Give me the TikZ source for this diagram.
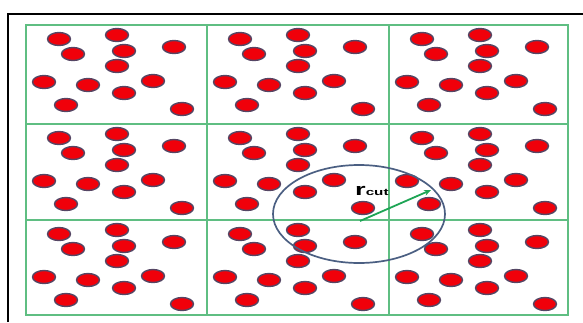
\documentclass[tikz,border=0pt]{standalone}
\usepackage{fontspec}
\setmainfont{Liberation Sans}
\usepackage{graphicx}
\usetikzlibrary{shapes.geometric, arrows.meta}
\definecolor{gridgreen}{RGB}{95,190,130}
\definecolor{arrowgreen}{RGB}{30,165,85}
\definecolor{atomred}{RGB}{240,0,10}
\definecolor{atomrim}{RGB}{85,70,100}
\definecolor{cutblue}{RGB}{75,95,130}

\begin{document}
\begin{tikzpicture}[x=1pt, y=-1pt, >={Stealth[length=7pt,width=6pt]},
  atom/.style={fill=atomred, draw=atomrim, line width=1.4pt},
  cell/.style={draw=gridgreen, line width=1.4pt}]
\useasboundingbox (0,0) rectangle (583,322);
% outer frame
\draw[line width=2.5pt] (8,322) -- (8,14) -- (583,14);
% 3x3 cells
\draw[cell] (26,25) rectangle (568,315);
\draw[cell] (207,25) -- (207,315);
\draw[cell] (389,25) -- (389,315);
\draw[cell] (26,124) -- (568,124);
\draw[cell] (26,220) -- (568,220);
% particles, same pattern in each cell
\foreach \cx in {26,207,389} {
  \foreach \cy in {25,124,220} {
    \foreach \px/\py in {33/14, 91/10, 47/29, 98/26, 148/22, 91/41, 18/57, 62/60, 127/56, 98/68, 40/80, 156/84}
      \draw[atom] (\cx+\px,\cy+\py) ellipse (11.5pt and 6.5pt);
  }
}
% cutoff sphere
\node[ellipse, draw=cutblue, line width=1.7pt, minimum width=172pt, minimum height=98pt, inner sep=0pt] (cutoff) at (359,214) {};
\coordinate (origin) at (360,221);
\coordinate (rtip) at (431,190);
\draw[->, arrowgreen, line width=1.8pt] (origin) -- (rtip);
\node[font=\bfseries, anchor=base west, inner sep=0pt] (rcut) at (355,195) {\scalebox{1.6}[1]{\fontsize{17}{17}\selectfont r\fontsize{9.5}{9.5}\selectfont cut}};
\end{tikzpicture}
\end{document}
